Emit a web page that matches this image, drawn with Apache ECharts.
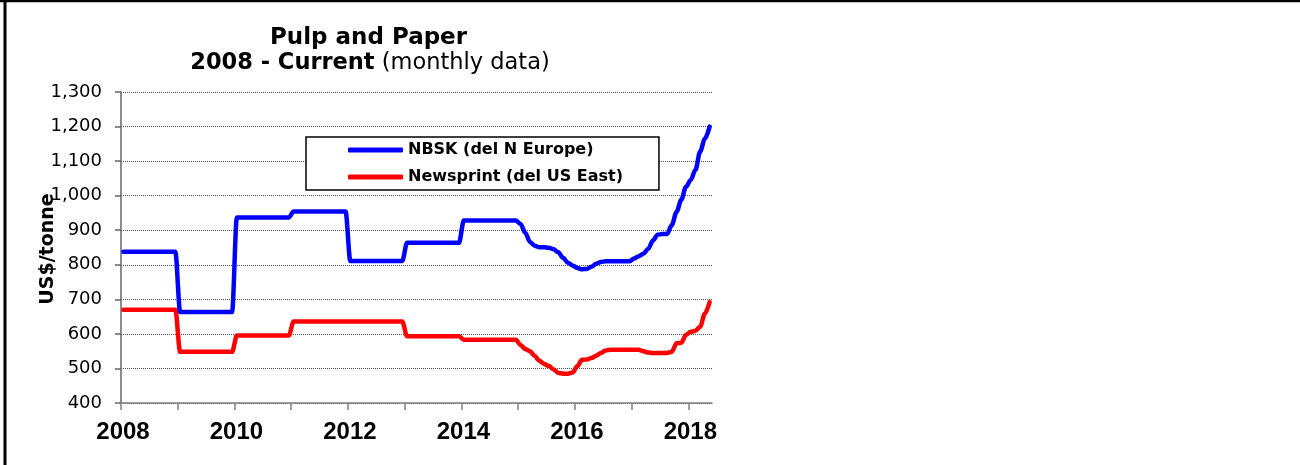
<!DOCTYPE html>
<html>
<head>
<meta charset="utf-8">
<script src="https://cdn.jsdelivr.net/npm/echarts@6/dist/echarts.min.js"></script>
<style>
html,body{margin:0;padding:0;background:#fff;overflow:hidden;}
#chart{width:1300px;height:465px;}
</style>
</head>
<body>
<div id="chart"></div>
<script>
// Monthly prices, Jan 2008 .. May 2018 (US$/tonne)
const nbsk = [
  838,838,838,838,838,838,838,838,838,838,838,838,
  663,663,663,663,663,663,663,663,663,663,663,663,
  937,937,937,937,937,937,937,937,937,937,937,937,
  954,954,954,954,954,954,954,954,954,954,954,954,
  811,811,811,811,811,811,811,811,811,811,811,811,
  864,864,864,864,864,864,864,864,864,864,864,864,
  928,928,928,928,928,928,928,928,928,928,928,928,
  918,893,866,855,851,851,849,845,836,820,806,798,
  791,787,788,794,803,808,810,810,810,810,810,810,
  818,825,832,846,870,887,889,889,915,953,988,1026,
  1045,1075,1128,1165,1200
];
const newsprint = [
  670,670,670,670,670,670,670,670,670,670,670,670,
  548,548,548,548,548,548,548,548,548,548,548,548,
  595,595,595,595,595,595,595,595,595,595,595,595,
  636,636,636,636,636,636,636,636,636,636,636,636,
  636,636,636,636,636,636,636,636,636,636,636,636,
  593,593,593,593,593,593,593,593,593,593,593,593,
  583,583,583,583,583,583,583,583,583,583,583,583,
  568,556,550,536,522,513,507,497,487,485,485,488,
  506,525,526,530,537,545,552,554,554,554,554,554,
  554,554,550,546,545,545,545,545,548,573,574,597,
  606,609,621,659,692
];
const seriesNames = ['NBSK (del N Europe)', 'Newsprint (del US East)'];
const startYear = 2008;
const yearTickMonths = [0,12,24,36,48,60,72,84,96,108,120];
const yearLabelMonths = [0,24,48,72,96,120];

// month index -> mid-month position on a month-based value axis
const toPoints = arr => arr.map((v, i) => [i + 0.5, v]);

const chart = echarts.init(document.getElementById('chart'), null, {renderer: 'canvas'});
const option = {
  animation: false,
  backgroundColor: '#ffffff',
  grid: {left: 121, right: 588, top: 92, bottom: 62, containLabel: false},
  graphic: [
    {type: 'line', silent: true, shape: {x1: 0, y1: 1, x2: 1300, y2: 1},
     style: {stroke: '#000', lineWidth: 2.5}},
    {type: 'line', silent: true, shape: {x1: 5, y1: 0, x2: 5, y2: 465},
     style: {stroke: '#000', lineWidth: 3}},
    {type: 'rect', silent: true, z: 100, shape: {x: 1288, y: 3, width: 12, height: 462},
     style: {fill: '#fff', stroke: null}},
    {type: 'text', silent: true, x: 368.5, y: 38,
     style: {text: 'Pulp and Paper', fill: '#000', font: 'bold 23px "DejaVu Sans"',
             align: 'center', verticalAlign: 'middle', textAlign: 'center', textVerticalAlign: 'middle'}},
    {type: 'text', silent: true, x: 370, y: 63.5,
     style: {text: '{b|2008 - Current}{r| (monthly data)}', fill: '#000',
             align: 'center', verticalAlign: 'middle', textAlign: 'center', textVerticalAlign: 'middle',
             rich: {
               b: {fontFamily: 'DejaVu Sans', fontWeight: 'bold', fontSize: 22.5, color: '#000'},
               r: {fontFamily: 'DejaVu Sans', fontWeight: 'normal', fontSize: 22.5, color: '#000'}
             }}},
    {type: 'text', silent: true, x: 48.5, y: 249, rotation: Math.PI / 2,
     style: {text: 'US$/tonne', fill: '#000', font: 'bold 19px "DejaVu Sans"',
             align: 'center', verticalAlign: 'middle', textAlign: 'center', textVerticalAlign: 'middle'}}
  ],
  legend: {
    orient: 'vertical',
    left: 306, top: 137,
    padding: [5, 36, 5, 42],
    borderColor: '#000', borderWidth: 1.5,
    backgroundColor: '#fff',
    itemWidth: 55, itemHeight: 5, itemGap: 11,
    icon: 'roundRect',
    data: seriesNames,
    textStyle: {fontFamily: 'DejaVu Sans', fontWeight: 'bold', fontSize: 16, color: '#000', lineHeight: 16}
  },
  xAxis: {
    type: 'value', min: 0, max: 125,
    axisLine: {show: true, lineStyle: {color: '#808080', width: 1.5}},
    axisTick: {show: true, length: 7, lineStyle: {color: '#808080', width: 1.5}, customValues: yearTickMonths},
    axisLabel: {
      customValues: yearLabelMonths,
      formatter: v => String(startYear + Math.round(v / 12)),
      fontFamily: 'Liberation Sans', fontWeight: 'bold', fontSize: 24, color: '#000',
      margin: 17, padding: [0, 0, 0, 4]
    },
    splitLine: {show: false}
  },
  yAxis: {
    type: 'value', min: 400, max: 1300, interval: 100,
    axisLine: {show: true, lineStyle: {color: '#666', width: 1.5}},
    axisTick: {show: true, inside: false, length: 6, lineStyle: {color: '#666', width: 1.5}},
    axisLabel: {
      formatter: v => v.toLocaleString('en-US'),
      fontFamily: 'DejaVu Sans', fontSize: 18, color: '#000', margin: 19
    },
    splitLine: {show: true, lineStyle: {color: '#555', width: 1, type: [1, 1]}}
  },
  series: [
    {name: seriesNames[0], type: 'line', data: toPoints(nbsk), showSymbol: false, symbol: 'none',
     smooth: 0.3, smoothMonotone: 'x', color: '#0000ff',
     lineStyle: {color: '#0000ff', width: 4.5, cap: 'round', join: 'round'}, z: 3},
    {name: seriesNames[1], type: 'line', data: toPoints(newsprint), showSymbol: false, symbol: 'none',
     smooth: 0.3, smoothMonotone: 'x', color: '#ff0000',
     lineStyle: {color: '#ff0000', width: 4.5, cap: 'round', join: 'round'}, z: 2}
  ]
};
chart.setOption(option);
</script>
</body>
</html>
